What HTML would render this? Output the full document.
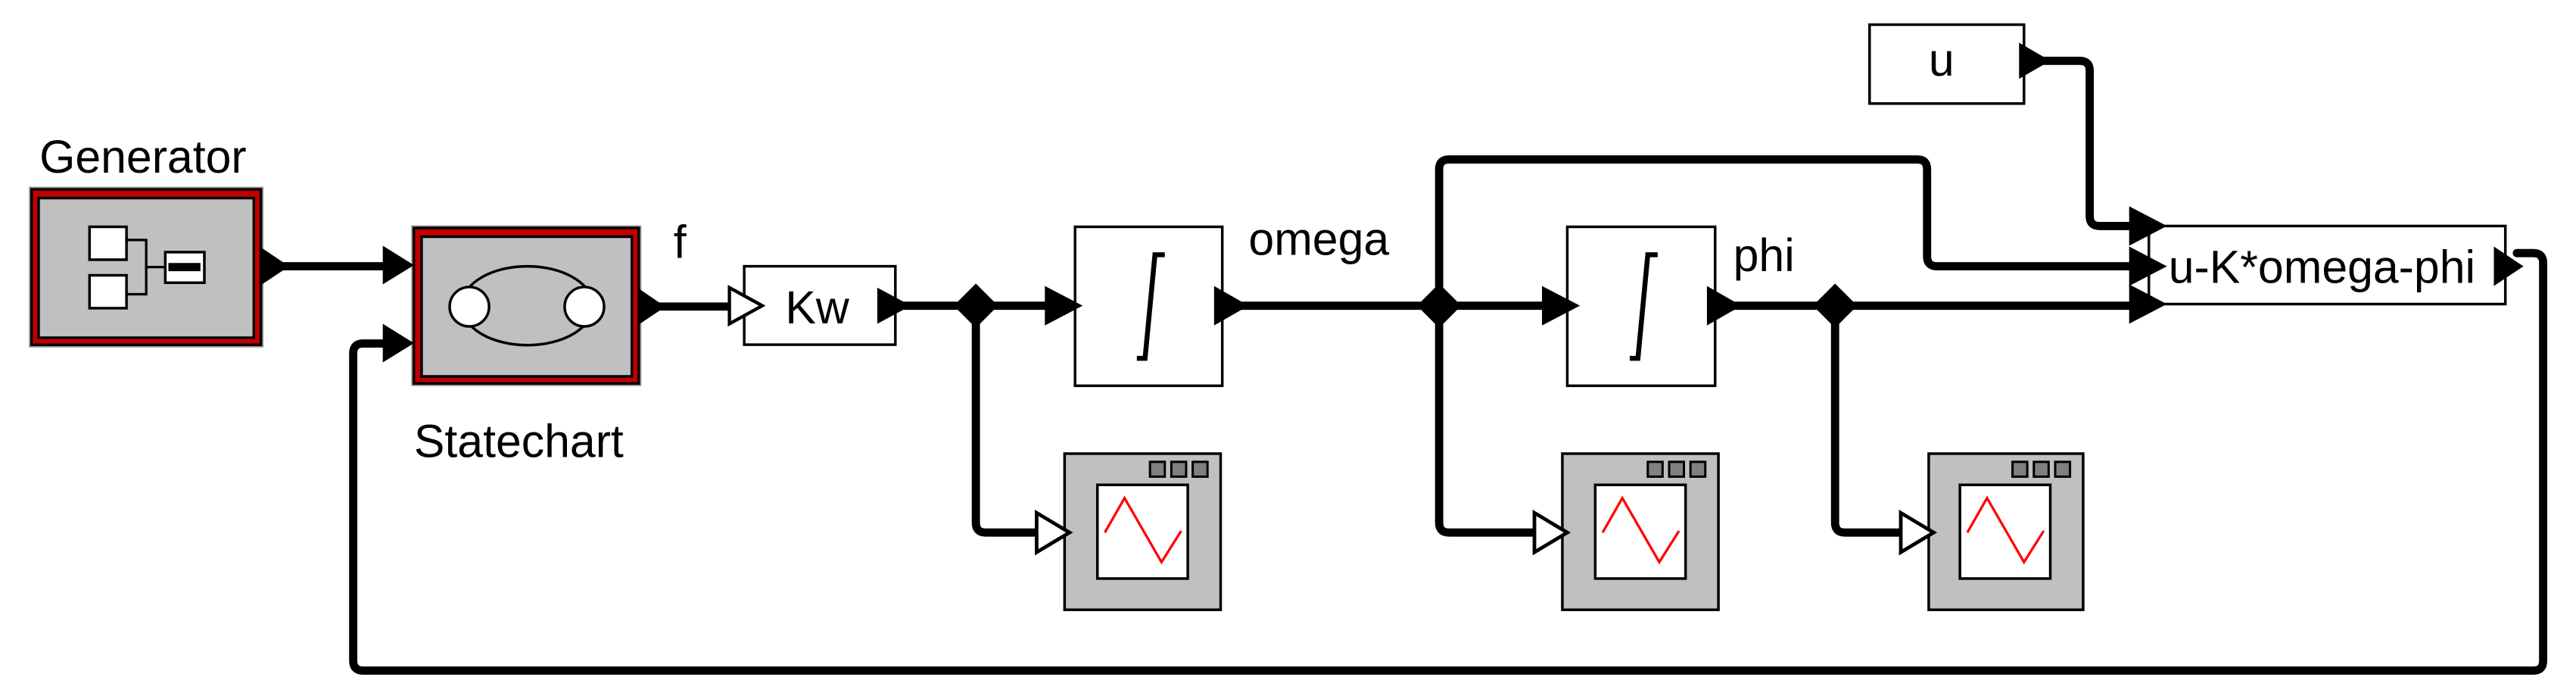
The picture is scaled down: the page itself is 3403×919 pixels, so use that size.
<!DOCTYPE html>
<html><head><meta charset="utf-8"><style>
html,body{margin:0;padding:0;background:#fff;}
svg{display:block;}
text{font-family:"Liberation Sans",Arial,sans-serif;fill:#000;}
</style></head><body>
<svg width="3403" height="919" viewBox="0 0 1568 423.45" preserveAspectRatio="none" xmlns="http://www.w3.org/2000/svg">
<g fill="none" stroke="#000" stroke-width="5" stroke-linejoin="round" stroke-linecap="round">
 <path d="M168 162 H240"/>
 <path d="M400 186.5 H446"/>
 <path d="M550 186 H640"/>
 <path d="M750 186 H940"/>
 <path d="M1050 186 H1298"/>
 <path d="M594 186 V318 Q594 324 600 324 H632"/>
 <path d="M876 186 V318 Q876 324 882 324 H936"/>
 <path d="M1117 186 V318 Q1117 324 1123 324 H1160"/>
 <path d="M876 186 V103 Q876 97 882 97 H1167 Q1173 97 1173 103 V156 Q1173 162 1179 162 H1298"/>
 <path d="M1240 37 H1266 Q1272 37 1272 43 V131.5 Q1272 137.5 1278 137.5 H1298"/>
 <path d="M1532 154 H1542 Q1548 154 1548 160 V402 Q1548 408 1542 408 H221 Q215 408 215 402 V215 Q215 209 221 209 H240"/>
</g>

<!-- Generator -->
<rect x="18" y="114" width="142" height="97" fill="#000" stroke="#999" stroke-width="0.8"/>
<rect x="20" y="116" width="138" height="93" fill="#c00000"/>
<rect x="23.5" y="120.5" width="131" height="85" fill="#c0c0c0" stroke="#000" stroke-width="1.6"/>
<rect x="54.5" y="138" width="22.5" height="20" fill="#fff" stroke="#000" stroke-width="1.6"/>
<rect x="54.5" y="167.5" width="22.5" height="20" fill="#fff" stroke="#000" stroke-width="1.6"/>
<path d="M77 146 H89 V179 H77 M89 162.5 H100.6" fill="none" stroke="#000" stroke-width="1.5"/>
<rect x="100.6" y="153.4" width="23.8" height="18.6" fill="#fff" stroke="#000" stroke-width="1.6"/>
<rect x="102.5" y="160" width="19.5" height="5" fill="#000"/>
<path d="M158 150 L176 162 L158 174 Z" fill="#000"/>
<text x="24" y="105" font-size="28">Generator</text>

<!-- Statechart -->
<rect x="250.7" y="137.5" width="139.3" height="97" fill="#000" stroke="#999" stroke-width="0.8"/>
<rect x="252.7" y="139.5" width="135.3" height="93" fill="#c00000"/>
<rect x="256.6" y="144" width="128" height="85" fill="#c0c0c0" stroke="#000" stroke-width="1.6"/>
<ellipse cx="321" cy="186" rx="40" ry="24" fill="none" stroke="#000" stroke-width="1.6"/>
<circle cx="285.7" cy="186.6" r="12" fill="#fff" stroke="#000" stroke-width="1.6"/>
<circle cx="355.7" cy="186.6" r="12" fill="#fff" stroke="#000" stroke-width="1.6"/>
<path d="M233 149.5 L252 161.3 L233 173 Z" fill="#000"/>
<path d="M233 197 L252 208.8 L233 220.5 Z" fill="#000"/>
<path d="M388 175 L405 186.6 L388 198 Z" fill="#000"/>
<text x="252" y="278" font-size="28">Statechart</text>
<text x="410" y="157" font-size="28">f</text>

<!-- Kw -->
<rect x="453" y="162" width="92" height="47.7" fill="#fff" stroke="#000" stroke-width="1.6"/>
<path d="M444 175 L464 186 L444 197 Z" fill="#fff" stroke="#000" stroke-width="2"/>
<text x="478" y="196.7" font-size="28">Kw</text>
<path d="M534 175 L554.5 186 L534 197 Z" fill="#000"/>

<!-- junctions -->
<path d="M594 172.5 L607.5 186 L594 199.5 L580.5 186 Z" fill="#000"/>
<path d="M876 172.5 L889.5 186 L876 199.5 L862.5 186 Z" fill="#000"/>
<path d="M1117 172.5 L1130.5 186 L1117 199.5 L1103.5 186 Z" fill="#000"/>

<!-- Integrator 1 -->
<rect x="654.4" y="138" width="89.6" height="96.7" fill="#fff" stroke="#000" stroke-width="1.6"/>
<path d="M709 155 H703 L697 218 H692" fill="none" stroke="#000" stroke-width="3"/>
<path d="M636 174 L659 186 L636 198 Z" fill="#000"/>
<path d="M739 174 L760 186 L739 198 Z" fill="#000"/>
<text x="760" y="155" font-size="28">omega</text>

<!-- Integrator 2 -->
<rect x="954" y="138" width="90" height="96.7" fill="#fff" stroke="#000" stroke-width="1.6"/>
<path d="M1009 155 H1003 L997 218 H992" fill="none" stroke="#000" stroke-width="3"/>
<path d="M938.6 174 L961.7 186 L938.6 198 Z" fill="#000"/>
<path d="M1039 174 L1060 186 L1039 198 Z" fill="#000"/>
<text x="1055" y="165" font-size="28">phi</text>

<!-- u -->
<rect x="1138" y="15" width="94" height="48" fill="#fff" stroke="#000" stroke-width="1.6"/>
<text x="1174" y="46" font-size="28">u</text>
<path d="M1229 26 L1248 37 L1229 48 Z" fill="#000"/>

<!-- u-K*omega-phi -->
<rect x="1308" y="137.5" width="217" height="47.5" fill="#fff" stroke="#000" stroke-width="1.6"/>
<text x="1320" y="172" font-size="28">u-K*omega-phi</text>
<path d="M1296 125.5 L1319 137.5 L1296 149.5 Z" fill="#000"/>
<path d="M1296 150 L1319 162 L1296 174 Z" fill="#000"/>
<path d="M1296 173 L1319 185 L1296 197 Z" fill="#000"/>
<path d="M1518 150 L1536 162 L1518 174 Z" fill="#000"/>

<!-- scopes -->
<g>
 <rect x="648" y="276" width="95" height="95" fill="#c0c0c0" stroke="#000" stroke-width="1.6"/>
 <rect x="700" y="281" width="9" height="9" fill="#808080" stroke="#000" stroke-width="1.4"/><rect x="713" y="281" width="9" height="9" fill="#808080" stroke="#000" stroke-width="1.4"/><rect x="726" y="281" width="9" height="9" fill="#808080" stroke="#000" stroke-width="1.4"/>
 <rect x="668" y="295" width="55" height="57" fill="#fff" stroke="#000" stroke-width="1.6"/>
 <path d="M672.5 324 L684.5 303 L707 342 L719 323" fill="none" stroke="#f00" stroke-width="1.5"/>
 <path d="M631 312 L651 324 L631 336 Z" fill="#fff" stroke="#000" stroke-width="2.2"/>
</g>
<g>
 <rect x="951" y="276" width="95" height="95" fill="#c0c0c0" stroke="#000" stroke-width="1.6"/>
 <rect x="1003" y="281" width="9" height="9" fill="#808080" stroke="#000" stroke-width="1.4"/><rect x="1016" y="281" width="9" height="9" fill="#808080" stroke="#000" stroke-width="1.4"/><rect x="1029" y="281" width="9" height="9" fill="#808080" stroke="#000" stroke-width="1.4"/>
 <rect x="971" y="295" width="55" height="57" fill="#fff" stroke="#000" stroke-width="1.6"/>
 <path d="M975.5 324 L987.5 303 L1010 342 L1022 323" fill="none" stroke="#f00" stroke-width="1.5"/>
 <path d="M934 312 L954 324 L934 336 Z" fill="#fff" stroke="#000" stroke-width="2.2"/>
</g>
<g>
 <rect x="1174" y="276" width="94" height="95" fill="#c0c0c0" stroke="#000" stroke-width="1.6"/>
 <rect x="1225" y="281" width="9" height="9" fill="#808080" stroke="#000" stroke-width="1.4"/><rect x="1238" y="281" width="9" height="9" fill="#808080" stroke="#000" stroke-width="1.4"/><rect x="1251" y="281" width="9" height="9" fill="#808080" stroke="#000" stroke-width="1.4"/>
 <rect x="1193" y="295" width="55" height="57" fill="#fff" stroke="#000" stroke-width="1.6"/>
 <path d="M1197.5 324 L1209.5 303 L1232 342 L1244 323" fill="none" stroke="#f00" stroke-width="1.5"/>
 <path d="M1157 312 L1177 324 L1157 336 Z" fill="#fff" stroke="#000" stroke-width="2.2"/>
</g>
</svg>
</body></html>
